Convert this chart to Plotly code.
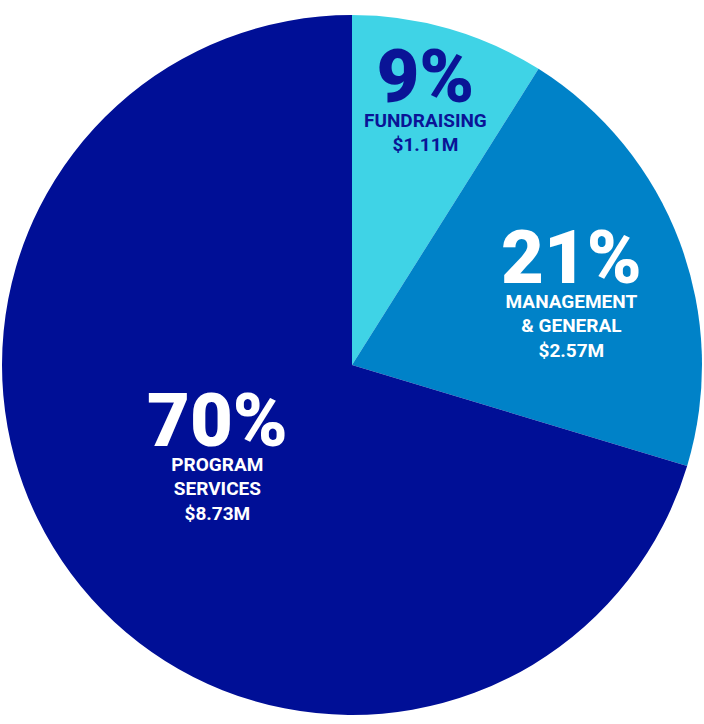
#! /usr/bin/env python

import plotly.graph_objects as go

# expense breakdown, millions of dollars
categories = ["Fundraising", "Management & General", "Program Services"]
amounts = [1.11, 2.57, 8.73]
pct_labels = ["9%", "21%", "70%"]
name_lines = [["FUNDRAISING"], ["MANAGEMENT", "& GENERAL"], ["PROGRAM", "SERVICES"]]
money_labels = ["$1.11M", "$2.57M", "$8.73M"]

colors = ["#3fd3e6", "#0082c8", "#000f96"]
text_colors = ["#0a1496", "#ffffff", "#ffffff"]

W, H = 704, 724
ML, MR, MT, MB = 2, 2, 14, 8
PW, PH = W - ML - MR, H - MT - MB

# pixel spot for each label block: centre x, bottom y of the last line
block_pos = [(425, 158), (571, 364), (217, 527)]


def px(x, y):
    """ Pixel position -> paper coordinates. """
    return (x - ML) / PW, 1 - (y - MT) / PH


fig = go.Figure(go.Pie(labels=categories, values=amounts,
                       sort=False, direction="clockwise", rotation=0,
                       marker=dict(colors=colors, line=dict(width=0)),
                       textinfo="none", hoverinfo="label+value",
                       showlegend=False))

FONT = "Roboto"
annotations = []
for i in range(len(categories)):
    big = '<span style="font-size:74px;font-weight:900">%s</span>' % pct_labels[i]
    text = "<br>".join([big] + name_lines[i] + [money_labels[i]])
    xp, yp = px(*block_pos[i])
    annotations.append(dict(x=xp, y=yp, xref="paper", yref="paper",
                            text=text, showarrow=False, align="center",
                            xanchor="center", yanchor="bottom",
                            font=dict(family=FONT, size=19, weight="bold",
                                      color=text_colors[i])))

fig.update_layout(width=W, height=H,
                  margin=dict(l=ML, r=MR, t=MT, b=MB),
                  paper_bgcolor="white", plot_bgcolor="white",
                  annotations=annotations)

# drop the browser's default body margin so the figure fills the window
fig.write_html("out.html", config={"displayModeBar": False},
               post_script="document.body.style.margin = '0';")
